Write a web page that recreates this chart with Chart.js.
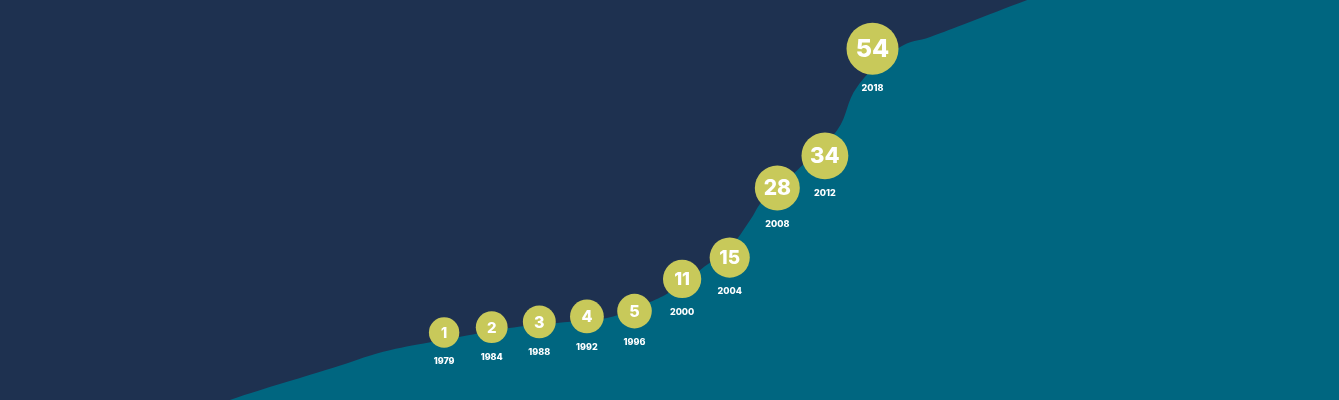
<!DOCTYPE html>
<html lang="en">
<head>
  <meta charset="UTF-8">
  <title>Growth chart</title>
  <script src="https://cdn.jsdelivr.net/npm/chart.js"></script>
  <style>
    html, body {
      margin: 0;
      padding: 0;
      background-color: #1e3150;
      overflow: hidden;
    }
    canvas {
      display: block;
    }
  </style>
</head>
<body>

  <canvas id="growthCanvas" width="1339" height="400"></canvas>

  <script>
    // circles: one per year, evenly spaced
    const years = ['1979', '1984', '1988', '1992', '1996', '2000', '2004', '2008', '2012', '2018'];
    const counts = [1, 2, 3, 4, 5, 11, 15, 28, 34, 54];

    // teal area boundary (x in year-slot units, y in count units)
    const areaX = [-5.5, -4.5, -2.33, -1.28, -0.29, 0.34, 1.32, 2.37, 3.42, 4.33, 4.75, 5.38, 6.01, 6.43, 6.70, 7.42, 8.26, 8.68, 9.58, 10.21, 10.99, 12.25, 13.8, 19.5];
    const areaY = [-15, -11.6, -5.6, -2.6, -0.8, 0.2, 1.8, 2.8, 3.7, 6.7, 8.6, 12.7, 17.0, 22.0, 25.7, 31.3, 38.8, 46.9, 54.3, 56.2, 58.8, 63.1, 68, 90];

    const teal = '#006680';
    const lime = '#c8c95a';

    function radiusFor(v) {
      return 13.5 + 1.7 * Math.sqrt(v);
    }

    const labelPlugin = {
      id: 'circleLabels',
      afterDatasetsDraw(chart) {
        const ctx = chart.ctx;
        const meta = chart.getDatasetMeta(0);
        ctx.save();
        ctx.fillStyle = '#ffffff';
        ctx.textAlign = 'center';
        ctx.textBaseline = 'middle';
        meta.data.forEach((pt, i) => {
          const r = radiusFor(counts[i]);
          ctx.font = '800 ' + Math.round(r * 0.95) + 'px Inter, "DejaVu Sans", sans-serif';
          ctx.fillText(String(counts[i]), pt.x, pt.y + 1);
          ctx.font = '800 9px Inter, "DejaVu Sans", sans-serif';
          ctx.fillText(years[i], pt.x, pt.y + r + 14);
        });
        ctx.restore();
      }
    };

    const ctx = document.getElementById('growthCanvas').getContext('2d');

    new Chart(ctx, {
      type: 'scatter',
      data: {
        datasets: [
          {
            label: 'count',
            data: counts.map((v, i) => ({ x: i, y: v })),
            backgroundColor: lime,
            borderWidth: 0,
            pointRadius: c => radiusFor(counts[c.dataIndex]),
            pointHoverRadius: c => radiusFor(counts[c.dataIndex]),
            showLine: false,
            order: 0
          },
          {
            type: 'line',
            label: 'area',
            data: areaX.map((x, i) => ({ x: x, y: areaY[i] })),
            borderWidth: 0,
            borderColor: teal,
            backgroundColor: teal,
            pointRadius: 0,
            tension: 0.4,
            fill: 'start',
            order: 1
          }
        ]
      },
      options: {
        responsive: false,
        animation: false,
        devicePixelRatio: 1,
        layout: { padding: 0, autoPadding: false },
        plugins: {
          legend: { display: false },
          tooltip: { enabled: false }
        },
        scales: {
          x: { type: 'linear', display: false, min: -9.33, max: 18.8 },
          y: { type: 'linear', display: false, min: -11.6, max: 63.1 }
        }
      },
      plugins: [labelPlugin]
    });
  </script>

</body>
</html>
